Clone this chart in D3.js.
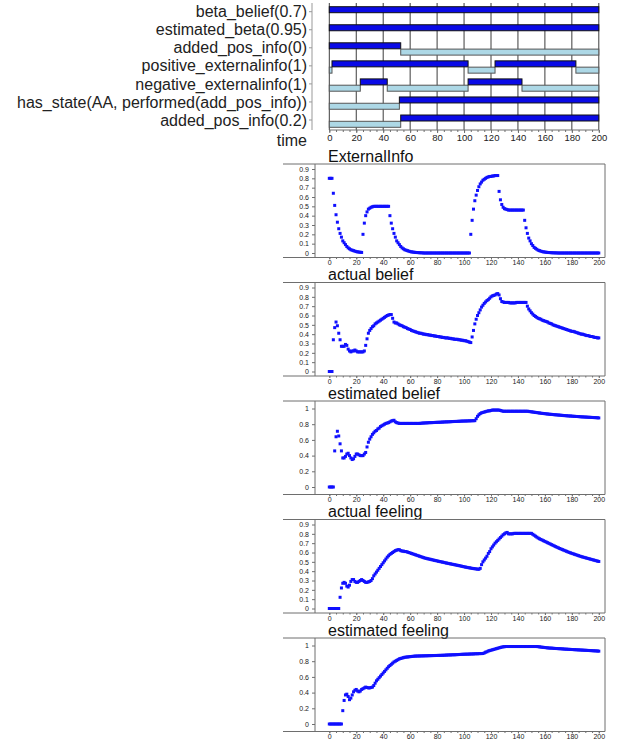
<!DOCTYPE html>
<html>
<head>
<meta charset="utf-8">
<script src="https://cdn.jsdelivr.net/npm/d3@7"></script>
<style>
  body { margin: 0; background: #fff; }
  svg { display: block; font-family: Arial, "Liberation Sans", sans-serif; }
</style>
</head>
<body>
<div id="chart"></div>
<script>
// ---- timeline (top) ----
const rowLabels = [
  'beta_belief(0.7)',
  'estimated_beta(0.95)',
  'added_pos_info(0)',
  'positive_externalinfo(1)',
  'negative_externalinfo(1)',
  'has_state(AA, performed(add_pos_info))',
  'added_pos_info(0.2)'
];
// [start, end, state]
const rowSegments = [
  [[0, 200, true]],
  [[0, 200, true]],
  [[0, 53, true], [53, 200, false]],
  [[0, 2, false], [2, 103, true], [103, 123, false], [123, 183, true], [183, 200, false]],
  [[0, 23, false], [23, 43, true], [43, 103, false], [103, 143, true], [143, 200, false]],
  [[0, 52, false], [52, 200, true]],
  [[0, 53, false], [53, 200, true]]
];
const timeTicks = [0, 20, 40, 60, 80, 100, 120, 140, 160, 180, 200];

// ---- series (one value per time step 0..200) ----
const times = d3.range(0, 201);

const externalInfo = [
0.80,0.80,0.80,0.64,0.51,0.41,0.33,0.26,0.21,0.17,
0.13,0.11,0.09,0.07,0.055,0.045,0.035,0.03,0.025,0.02,
0.015,0.012,0.01,0.008,0.006,0.20,0.32,0.40,0.44,0.47,
0.48,0.49,0.495,0.50,0.50,0.50,0.50,0.50,0.50,0.50,
0.50,0.50,0.50,0.50,0.50,0.40,0.32,0.26,0.21,0.17,
0.13,0.11,0.09,0.07,0.055,0.045,0.035,0.03,0.025,0.02,
0.015,0.012,0.01,0.008,0.006,0.005,0.004,0.003,0.002,0.002,
0,0,0,0,0,0,0,0,0,0,
0,0,0,0,0,0,0,0,0,0,
0,0,0,0,0,0,0,0,0,0,
0,0,0,0,0,0.20,0.35,0.47,0.56,0.62,
0.67,0.71,0.74,0.76,0.78,0.79,0.80,0.81,0.815,0.82,
0.82,0.825,0.825,0.83,0.83,0.83,0.66,0.57,0.52,0.49,
0.475,0.47,0.465,0.46,0.46,0.46,0.46,0.46,0.46,0.46,
0.46,0.46,0.46,0.46,0.46,0.35,0.27,0.21,0.16,0.13,
0.10,0.08,0.06,0.05,0.04,0.03,0.025,0.02,0.015,0.012,
0.01,0.008,0.006,0.005,0.004,0.003,0.002,0.002,0.001,0.001,
0,0,0,0,0,0,0,0,0,0,
0,0,0,0,0,0,0,0,0,0,
0,0,0,0,0,0,0,0,0,0,
0
];

const actualBelief = [
0,0,0,0.34,0.47,0.53,0.49,0.41,0.34,0.27,
0.27,0.27,0.29,0.28,0.24,0.22,0.21,0.22,0.22,0.23,
0.22,0.21,0.21,0.21,0.21,0.21,0.22,0.28,0.35,0.41,
0.44,0.46,0.48,0.49,0.51,0.52,0.53,0.54,0.55,0.56,
0.57,0.58,0.59,0.60,0.605,0.61,0.61,0.57,0.53,0.52,
0.52,0.51,0.50,0.495,0.49,0.48,0.475,0.47,0.46,0.455,
0.45,0.44,0.435,0.43,0.425,0.42,0.415,0.41,0.41,0.405,
0.40,0.40,0.395,0.395,0.39,0.39,0.385,0.385,0.38,0.38,
0.375,0.375,0.37,0.37,0.365,0.365,0.36,0.36,0.36,0.355,
0.355,0.35,0.35,0.345,0.345,0.345,0.34,0.34,0.335,0.335,
0.33,0.33,0.325,0.32,0.315,0.31,0.37,0.44,0.51,0.56,
0.60,0.63,0.66,0.69,0.71,0.73,0.745,0.76,0.77,0.785,
0.80,0.81,0.815,0.82,0.83,0.835,0.82,0.78,0.75,0.745,
0.74,0.74,0.74,0.74,0.735,0.735,0.735,0.735,0.735,0.74,
0.74,0.74,0.74,0.74,0.74,0.74,0.74,0.70,0.67,0.65,
0.63,0.615,0.60,0.59,0.58,0.57,0.565,0.56,0.55,0.545,
0.54,0.535,0.53,0.52,0.515,0.51,0.50,0.495,0.49,0.485,
0.48,0.475,0.47,0.465,0.46,0.455,0.45,0.445,0.44,0.435,
0.43,0.43,0.425,0.42,0.415,0.41,0.405,0.40,0.40,0.395,
0.39,0.385,0.385,0.38,0.375,0.375,0.37,0.365,0.365,0.36,
0.36
];

const estimatedBelief = [
0,0,0,0,0.46,0.64,0.71,0.65,0.55,0.46,
0.37,0.37,0.39,0.42,0.43,0.40,0.37,0.35,0.36,0.39,
0.42,0.42,0.41,0.40,0.40,0.40,0.42,0.44,0.51,0.57,
0.61,0.64,0.67,0.69,0.71,0.72,0.74,0.75,0.77,0.78,
0.79,0.80,0.81,0.815,0.82,0.83,0.84,0.845,0.85,0.83,
0.82,0.815,0.81,0.81,0.81,0.81,0.81,0.81,0.81,0.81,
0.81,0.81,0.81,0.81,0.81,0.81,0.81,0.81,0.812,0.814,
0.815,0.816,0.817,0.818,0.819,0.82,0.82,0.821,0.822,0.823,
0.824,0.824,0.825,0.826,0.827,0.828,0.829,0.83,0.83,0.831,
0.832,0.833,0.834,0.835,0.835,0.836,0.837,0.838,0.839,0.84,
0.84,0.841,0.841,0.842,0.843,0.843,0.844,0.845,0.845,0.87,
0.90,0.92,0.935,0.945,0.95,0.955,0.96,0.965,0.97,0.97,
0.975,0.98,0.98,0.98,0.98,0.98,0.98,0.975,0.97,0.965,
0.965,0.965,0.965,0.965,0.965,0.965,0.965,0.965,0.965,0.965,
0.965,0.965,0.965,0.965,0.965,0.965,0.965,0.965,0.963,0.96,
0.958,0.955,0.953,0.95,0.948,0.945,0.943,0.94,0.938,0.936,
0.934,0.932,0.93,0.928,0.926,0.925,0.923,0.921,0.92,0.918,
0.917,0.915,0.914,0.912,0.91,0.909,0.908,0.906,0.905,0.904,
0.903,0.901,0.90,0.899,0.898,0.897,0.895,0.894,0.893,0.892,
0.891,0.89,0.889,0.888,0.887,0.886,0.885,0.884,0.883,0.882,
0.88
];

const actualFeeling = [
0,0,0,0,0,0,0,0,0.12,0.22,
0.27,0.28,0.27,0.24,0.23,0.25,0.29,0.31,0.31,0.29,
0.28,0.28,0.29,0.30,0.31,0.30,0.29,0.28,0.28,0.285,
0.29,0.30,0.32,0.35,0.37,0.39,0.41,0.43,0.45,0.47,
0.49,0.51,0.53,0.55,0.565,0.58,0.59,0.60,0.61,0.62,
0.625,0.63,0.63,0.62,0.615,0.615,0.61,0.61,0.605,0.60,
0.595,0.59,0.585,0.58,0.575,0.57,0.565,0.56,0.555,0.55,
0.545,0.54,0.537,0.533,0.53,0.527,0.523,0.52,0.516,0.513,
0.51,0.506,0.503,0.50,0.497,0.494,0.49,0.487,0.484,0.481,
0.478,0.475,0.472,0.469,0.466,0.463,0.46,0.457,0.454,0.45,
0.447,0.444,0.441,0.438,0.436,0.433,0.43,0.428,0.426,0.424,
0.422,0.42,0.43,0.47,0.50,0.52,0.54,0.56,0.59,0.61,
0.64,0.66,0.68,0.70,0.715,0.73,0.745,0.76,0.775,0.79,
0.80,0.81,0.815,0.80,0.80,0.80,0.80,0.805,0.805,0.805,
0.805,0.805,0.805,0.805,0.805,0.805,0.805,0.805,0.805,0.805,
0.805,0.795,0.785,0.775,0.765,0.755,0.747,0.74,0.733,0.726,
0.719,0.712,0.705,0.698,0.691,0.684,0.677,0.67,0.663,0.656,
0.65,0.643,0.637,0.631,0.625,0.619,0.613,0.607,0.601,0.596,
0.591,0.586,0.581,0.576,0.571,0.566,0.561,0.556,0.552,0.548,
0.544,0.54,0.536,0.532,0.528,0.524,0.52,0.516,0.512,0.508,
0.504
];

const estimatedFeeling = [
0,0,0,0,0,0,0,0,0,0,
0.17,0.30,0.37,0.38,0.35,0.31,0.33,0.37,0.41,0.43,
0.44,0.42,0.41,0.42,0.44,0.45,0.46,0.47,0.465,0.46,
0.46,0.465,0.47,0.49,0.52,0.55,0.57,0.59,0.61,0.63,
0.65,0.67,0.69,0.71,0.73,0.745,0.76,0.775,0.79,0.80,
0.81,0.82,0.83,0.835,0.84,0.845,0.85,0.852,0.854,0.856,
0.858,0.86,0.862,0.864,0.865,0.866,0.866,0.867,0.867,0.868,
0.868,0.869,0.869,0.87,0.87,0.871,0.871,0.872,0.872,0.873,
0.873,0.874,0.874,0.875,0.875,0.876,0.877,0.878,0.879,0.88,
0.88,0.881,0.882,0.882,0.883,0.884,0.885,0.886,0.887,0.888,
0.889,0.889,0.89,0.89,0.891,0.892,0.892,0.893,0.894,0.895,
0.895,0.896,0.897,0.897,0.898,0.905,0.915,0.92,0.93,0.935,
0.94,0.945,0.95,0.955,0.96,0.965,0.97,0.975,0.98,0.983,
0.985,0.987,0.987,0.987,0.987,0.987,0.987,0.987,0.987,0.987,
0.987,0.987,0.987,0.987,0.987,0.987,0.987,0.987,0.987,0.987,
0.987,0.987,0.987,0.987,0.987,0.985,0.983,0.98,0.978,0.976,
0.974,0.972,0.97,0.968,0.967,0.966,0.965,0.963,0.962,0.961,
0.96,0.959,0.958,0.957,0.955,0.954,0.953,0.952,0.951,0.95,
0.949,0.948,0.947,0.946,0.945,0.944,0.943,0.942,0.941,0.94,
0.939,0.938,0.937,0.936,0.935,0.934,0.933,0.932,0.931,0.93,
0.928
];

const panelTitles = ['ExternalInfo', 'actual belief', 'estimated belief', 'actual feeling', 'estimated feeling'];
const panelSeries = [externalInfo, actualBelief, estimatedBelief, actualFeeling, estimatedFeeling];
const tenthTicks = [0, 0.1, 0.2, 0.3, 0.4, 0.5, 0.6, 0.7, 0.8, 0.9];
const fifthTicks = [0, 0.2, 0.4, 0.6, 0.8, 1];
const panelTicks = [tenthTicks, tenthTicks, fifthTicks, tenthTicks, fifthTicks];

// ---- drawing ----
const width = 617;
const height = 742;
const dotColor = '#1010ff';
const axisColor = '#6e6e6e';

const svg = d3.select('#chart')
  .append('svg')
  .attr('width', width)
  .attr('height', height);

const xScale = d3.scaleLinear().domain([0, 200]).range([329.3, 598.8]);
const minorTimes = d3.range(0, 201, 5);

function styleAxis(g, size) {
  g.select('.domain').remove();
  g.selectAll('.tick line').attr('stroke', axisColor);
  g.selectAll('.tick text').attr('fill', '#222').style('font-size', (size || 7) + 'px');
}

// timeline
const tl = svg.append('g').attr('class', 'timeline');
const rowScale = d3.scalePoint().domain(rowLabels).range([9.7, 118]);
const tlBottom = 130;

tl.append('g')
  .selectAll('line')
  .data(timeTicks)
  .join('line')
  .attr('x1', (d) => xScale(d))
  .attr('x2', (d) => xScale(d))
  .attr('y1', 3)
  .attr('y2', tlBottom)
  .attr('stroke', '#3c3c3c')
  .attr('stroke-width', 1);

const segs = rowLabels.flatMap((label, i) =>
  rowSegments[i].map(([s, e, on]) => ({ label, s, e, on })));

tl.append('g')
  .selectAll('rect')
  .data(segs)
  .join('rect')
  .attr('x', (d) => xScale(d.s))
  .attr('width', (d) => xScale(d.e) - xScale(d.s))
  .attr('y', (d) => d.on ? rowScale(d.label) - 3 : rowScale(d.label) + 3.3)
  .attr('height', 6)
  .attr('fill', (d) => d.on ? '#0a0ae6' : '#add8e6')
  .attr('stroke', (d) => d.on ? '#111' : '#555')
  .attr('stroke-width', 1);

// time axis
tl.append('g')
  .attr('transform', `translate(0, ${tlBottom})`)
  .call(d3.axisBottom(xScale).tickValues(minorTimes).tickSize(2).tickFormat(''))
  .call(styleAxis);
tl.append('g')
  .attr('transform', `translate(0, ${tlBottom})`)
  .call(d3.axisBottom(xScale).tickValues(timeTicks).tickSize(3).tickPadding(1))
  .call(styleAxis, 9.5);
tl.append('line')
  .attr('x1', xScale(0)).attr('x2', xScale(200))
  .attr('y1', tlBottom).attr('y2', tlBottom)
  .attr('stroke', axisColor);

// label axis
tl.append('line')
  .attr('x1', 312).attr('x2', 312)
  .attr('y1', 3).attr('y2', tlBottom)
  .attr('stroke', '#999');
tl.append('g')
  .selectAll('line')
  .data(rowLabels)
  .join('line')
  .attr('x1', 309).attr('x2', 312)
  .attr('y1', (d) => rowScale(d) + 2)
  .attr('y2', (d) => rowScale(d) + 2)
  .attr('stroke', '#999');
tl.append('g')
  .selectAll('text')
  .data(rowLabels)
  .join('text')
  .attr('x', 307)
  .attr('y', (d) => rowScale(d) + 2)
  .attr('dy', '0.35em')
  .attr('text-anchor', 'end')
  .attr('fill', '#222')
  .style('font-size', '16px')
  .text((d) => d);
tl.append('text')
  .attr('x', 307)
  .attr('y', 140)
  .attr('dy', '0.35em')
  .attr('text-anchor', 'end')
  .attr('fill', '#222')
  .style('font-size', '16px')
  .text('time');

// panels
const panelTop0 = 164;
const panelStep = 118.5;
const panelH = 93.5;
const frameLeft = 283;
const frameRight = 605;
const yAxisX = 315;

panelTitles.forEach((title, i) => {
  const top = panelTop0 + i * panelStep;
  const bottom = top + panelH;
  const ticks = panelTicks[i];
  const yMax = ticks[ticks.length - 1];
  const yScale = d3.scaleLinear()
    .domain([0, yMax])
    .range(yMax === 1 ? [top + 86, top + 7.5] : [top + 89, top + 5]);

  const g = svg.append('g').attr('class', 'panel');

  g.append('text')
    .attr('x', 328)
    .attr('y', top - 2.5)
    .attr('fill', '#111')
    .style('font-size', '16px')
    .text(title);

  // frame
  g.append('line').attr('x1', frameLeft).attr('x2', frameRight)
    .attr('y1', top).attr('y2', top).attr('stroke', axisColor);
  g.append('line').attr('x1', frameRight).attr('x2', frameRight)
    .attr('y1', top).attr('y2', bottom).attr('stroke', axisColor);
  g.append('line').attr('x1', frameLeft).attr('x2', frameRight)
    .attr('y1', bottom).attr('y2', bottom).attr('stroke', axisColor);
  g.append('line').attr('x1', yAxisX).attr('x2', yAxisX)
    .attr('y1', top).attr('y2', bottom).attr('stroke', axisColor);

  // y axis
  g.append('g')
    .attr('transform', `translate(${yAxisX}, 0)`)
    .call(d3.axisLeft(yScale).tickValues(ticks).tickSize(3).tickPadding(3).tickFormat((d) => String(d)))
    .call(styleAxis);

  // x axis
  g.append('g')
    .attr('transform', `translate(0, ${bottom})`)
    .call(d3.axisBottom(xScale).tickValues(minorTimes).tickSize(1.5).tickFormat(''))
    .call(styleAxis);
  g.append('g')
    .attr('transform', `translate(0, ${bottom})`)
    .call(d3.axisBottom(xScale).tickValues(timeTicks).tickSize(2))
    .call(styleAxis)
    .call((ax) => ax.selectAll('.tick text').attr('y', 3));

  // dots
  g.append('g')
    .selectAll('rect')
    .data(panelSeries[i].map((v, k) => [times[k], v]))
    .join('rect')
    .attr('x', (d) => xScale(d[0]) - 1.5)
    .attr('y', (d) => yScale(d[1]) - 1.5)
    .attr('width', 3)
    .attr('height', 3)
    .attr('fill', dotColor);
});
</script>
</body>
</html>
